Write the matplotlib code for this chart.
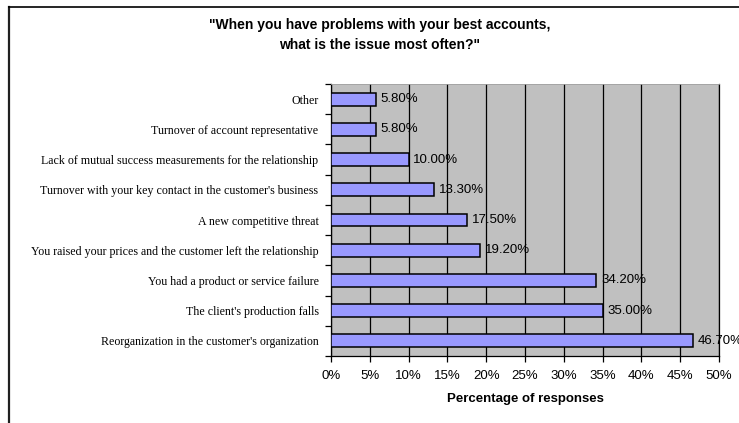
import matplotlib

matplotlib.use("Agg")
import matplotlib.pyplot as plt
from matplotlib.lines import Line2D
from matplotlib.ticker import FuncFormatter, MultipleLocator

# bottom to top, as drawn
categories = [
    "Reorganization in the customer's organization",
    "The client's production falls",
    "You had a product or service failure",
    "You raised your prices and the customer left the relationship",
    "A new competitive threat",
    "Turnover with your key contact in the customer's business",
    "Lack of mutual success measurements for the relationship",
    "Turnover of account representative",
    "Other",
]
percentages = [46.7, 35.0, 34.2, 19.2, 17.5, 13.3, 10.0, 5.8, 5.8]

TITLE = '"When you have problems with your best accounts,\nwhat is the issue most often?"'
XLABEL = "Percentage of responses"

W, H = 739, 423
fig = plt.figure(figsize=(W / 100, H / 100), dpi=100)
ax = fig.add_axes([331 / W, 1 - 356 / H, (719 - 331) / W, (356 - 84) / H])

ax.set_facecolor("#c0c0c0")
ax.set_axisbelow(True)
ax.grid(True, axis="x", color="black", linewidth=0.9)

y = list(range(len(categories)))
ax.barh(y, percentages, height=0.43, color="#9999ff", edgecolor="black", linewidth=1.1, zorder=3)
for yi, v in zip(y, percentages):
    ax.text(v + 0.6, yi, f"{v:.2f}%", va="center", ha="left", fontsize=9.5,
            family="Liberation Sans", zorder=4)

ax.set_xlim(0, 50)
ax.set_ylim(-0.5, len(categories) - 0.5)
ax.xaxis.set_major_locator(MultipleLocator(5))
ax.xaxis.set_major_formatter(FuncFormatter(lambda v, _: f"{v:.0f}%"))
ax.tick_params(axis="x", direction="out", length=4, width=0.9, labelsize=9.5, pad=6)
for lbl in ax.get_xticklabels():
    lbl.set_family("Liberation Sans")

# category labels between boundary ticks
ax.set_yticks([i - 0.5 for i in range(len(categories) + 1)])
ax.set_yticklabels([])
ax.tick_params(axis="y", direction="out", length=4, width=0.9)
ax.set_yticks(y, minor=True)
ax.set_yticklabels(categories, minor=True, fontsize=8.6, family="Liberation Serif")
ax.tick_params(axis="y", which="minor", length=0, pad=9)

for side in ("left", "bottom", "right"):
    ax.spines[side].set_color("black")
    ax.spines[side].set_linewidth(0.9)
ax.spines["top"].set_color("#a0a0a0")
ax.spines["top"].set_linewidth(0.6)

ax.set_xlabel(XLABEL, fontsize=9.5, fontweight="bold", family="Liberation Sans", labelpad=8)

fig.text(0.5 + 10 / W, 1 - 35 / H, TITLE, ha="center", va="center", fontsize=10,
         fontweight="bold", family="Liberation Sans", linespacing=1.5)

# outer chart frame (only left and top edges visible)
fig.add_artist(Line2D([9 / W, 9 / W], [0, 1 - 7 / H], color="#202020", linewidth=1.6,
                      transform=fig.transFigure))
fig.add_artist(Line2D([9 / W, 1], [1 - 7 / H, 1 - 7 / H], color="black", linewidth=1.2,
                      transform=fig.transFigure))

fig.savefig("out.png", dpi=100)
